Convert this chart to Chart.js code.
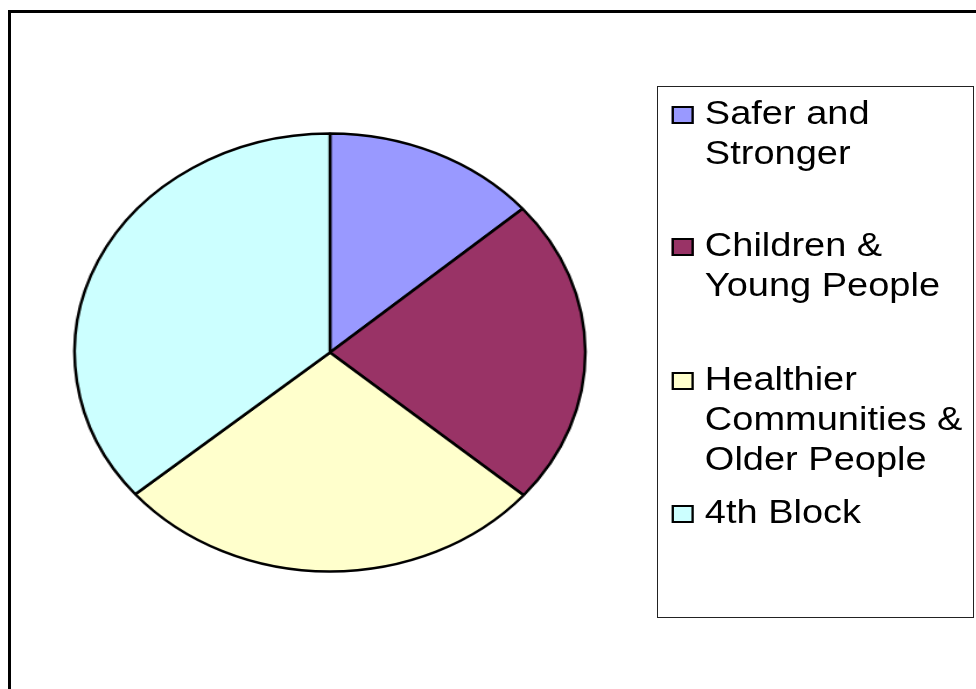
<!DOCTYPE html>
<html>
<head>
<meta charset="utf-8">
<script src="https://cdn.jsdelivr.net/npm/chart.js@4/dist/chart.umd.min.js"></script>
<style>
  html, body { margin: 0; padding: 0; width: 976px; height: 689px; overflow: hidden; background: #fff; }
  #frame { position: absolute; left: 8px; top: 10px; width: 2000px; height: 2000px; border: 3px solid #000; }
  #legendBox { position: absolute; left: 657px; top: 86px; width: 315px; height: 530px; border: 1px solid #222; background: #fff; }
  #stretch { position: absolute; left: 0; top: 0; width: 837px; height: 689px; transform: scaleX(1.166); transform-origin: 0 0; }
  #chart { position: absolute; left: 0; top: 0; }
  .item { position: absolute; left: 604.5px; font-family: "Liberation Sans", Arial, sans-serif; font-size: 32.6px; line-height: 40px; color: #000; white-space: nowrap; }
  .mark { position: absolute; width: 15px; height: 14px; border: 2px solid #000; }
</style>
</head>
<body>
<div id="frame"></div>
<div id="legendBox"></div>
<div id="stretch">
  <canvas id="chart" width="566" height="689"></canvas>
  <div id="legend"></div>
</div>
<script>
const categories = [
  ["Safer and", "Stronger"],
  ["Children &", "Young People"],
  ["Healthier", "Communities &", "Older People"],
  ["4th Block"]
];
const shares = [13.6, 22.7, 27.5, 36.2];
const sliceColors = ["#9999FF", "#993366", "#FFFFCC", "#CCFFFF"];

const chart = new Chart(document.getElementById("chart"), {
  type: "pie",
  data: {
    labels: categories,
    datasets: [{
      data: shares,
      backgroundColor: sliceColors,
      borderColor: "#000",
      borderWidth: 2.5,
      radius: 219
    }]
  },
  options: {
    responsive: false,
    animation: false,
    rotation: 0,
    layout: { padding: { top: 16 } },
    plugins: { legend: { display: false }, tooltip: { enabled: false } }
  }
});

// HTML legend built from the chart's own labels and colours
const itemTops = [93, 225, 359, 492];
const legend = document.getElementById("legend");
chart.data.labels.forEach((lines, i) => {
  const div = document.createElement("div");
  div.className = "item";
  div.style.top = itemTops[i] + "px";
  div.innerHTML = lines.map(l => l.replace(/&/g, "&amp;")).join("<br>");
  legend.appendChild(div);
  const m = document.createElement("div");
  m.className = "mark";
  m.style.left = "575.5px";
  m.style.top = (itemTops[i] + 12.5) + "px";
  m.style.background = chart.data.datasets[0].backgroundColor[i];
  legend.appendChild(m);
});
</script>
</body>
</html>
